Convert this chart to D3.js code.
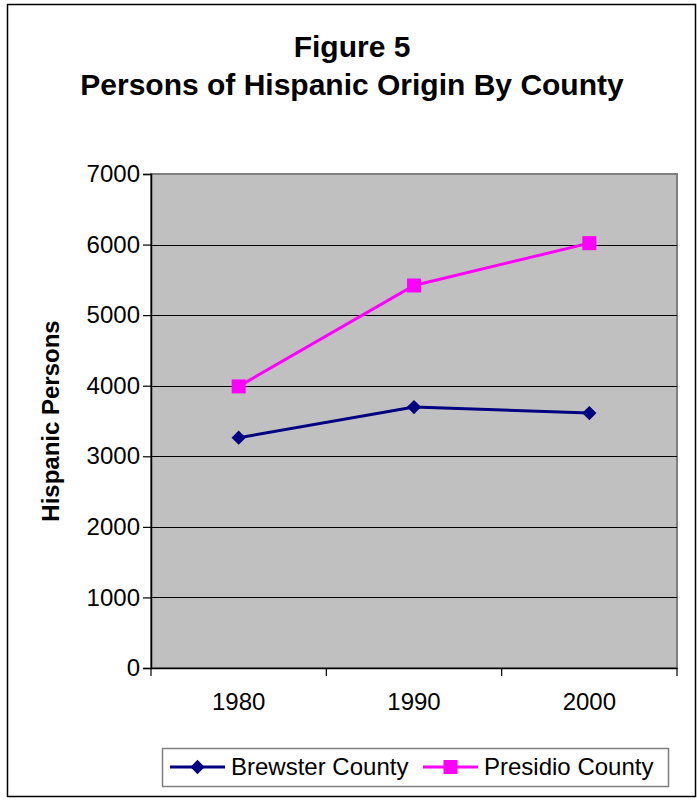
<!DOCTYPE html>
<html lang="en">
<head>
<meta charset="UTF-8">
<title>Figure 5 - Persons of Hispanic Origin By County</title>
<script src="https://d3js.org/d3.v7.min.js"></script>
<style>
    body { margin: 0; background: #fff; }
    svg text { font-family: "Liberation Sans", Arial, sans-serif; fill: #000; }
</style>
</head>
<body>
<svg width="697" height="801"></svg>
<script>
    // chart data
    const years = ["1980", "1990", "2000"];
    const brewster = [3263, 3698, 3612];
    const presidio = [3990, 5420, 6020];
    const yTicks = [0, 1000, 2000, 3000, 4000, 5000, 6000, 7000];
    const seriesNames = ["Brewster County", "Presidio County"];

    const svg = d3.select("svg");

    // outer chart border
    svg.append("rect")
        .attr("x", 7.5).attr("y", 4.5)
        .attr("width", 688).attr("height", 792)
        .attr("fill", "#fff")
        .attr("stroke", "#000")
        .attr("stroke-width", 1.5);

    // plot area
    const plot = { left: 151, top: 174, right: 677, bottom: 668 };

    const x = d3.scaleBand().domain(years).range([plot.left, plot.right]).padding(0);
    const y = d3.scaleLinear().domain([0, 7000]).range([plot.bottom, plot.top]);

    svg.append("rect")
        .attr("x", plot.left).attr("y", plot.top)
        .attr("width", plot.right - plot.left)
        .attr("height", plot.bottom - plot.top)
        .attr("fill", "#c0c0c0")
        .attr("stroke", "#808080")
        .attr("stroke-width", 2);

    // gridlines
    svg.append("g")
        .selectAll("line")
        .data(yTicks.filter(d => d > 0 && d < 7000))
        .join("line")
        .attr("x1", plot.left).attr("x2", plot.right)
        .attr("y1", d => Math.round(y(d)) + 0.5)
        .attr("y2", d => Math.round(y(d)) + 0.5)
        .attr("stroke", "#000")
        .attr("stroke-width", 1);

    // y axis
    const yAxis = svg.append("g")
        .attr("transform", `translate(${plot.left},0)`)
        .call(d3.axisLeft(y).tickValues(yTicks).tickSize(8).tickPadding(3).tickFormat(d3.format("d")));
    yAxis.select(".domain").attr("stroke", "#000").attr("stroke-width", 1.5);
    yAxis.selectAll(".tick line").attr("stroke", "#000").attr("stroke-width", 1.2);
    yAxis.selectAll(".tick text")
        .attr("font-size", 24)
        .style("font-family", "'Liberation Sans', Arial, sans-serif");

    // x axis: ticks at category boundaries, labels at centres
    const xAxis = svg.append("g")
        .attr("transform", `translate(0,${plot.bottom})`)
        .call(d3.axisBottom(x).tickSize(0).tickPadding(25));
    xAxis.select(".domain").attr("stroke", "#000").attr("stroke-width", 1.5);
    xAxis.selectAll(".tick text")
        .attr("font-size", 24)
        .style("font-family", "'Liberation Sans', Arial, sans-serif");

    const bounds = years.map(d => x(d)).concat([x.range()[1]]);
    xAxis.append("g")
        .selectAll("line")
        .data(bounds)
        .join("line")
        .attr("x1", d => d).attr("x2", d => d)
        .attr("y1", 0).attr("y2", 8)
        .attr("stroke", "#000")
        .attr("stroke-width", 1.2);

    // y axis title
    svg.append("text")
        .attr("transform", `translate(59,${(plot.top + plot.bottom) / 2})rotate(-90)`)
        .attr("text-anchor", "middle")
        .attr("font-size", 24)
        .attr("font-weight", "bold")
        .text("Hispanic Persons");

    // title
    svg.append("text")
        .attr("x", 352).attr("y", 57)
        .attr("text-anchor", "middle")
        .attr("font-size", 30)
        .attr("font-weight", "bold")
        .text("Figure 5");
    svg.append("text")
        .attr("x", 352).attr("y", 95)
        .attr("text-anchor", "middle")
        .attr("font-size", 30)
        .attr("font-weight", "bold")
        .text("Persons of Hispanic Origin By County");

    const line = d3.line()
        .x((d, i) => x(years[i]) + x.bandwidth() / 2)
        .y(d => y(d));

    const diamond = d3.symbol().type(d3.symbolDiamond2).size(130);
    const square = d3.symbol().type(d3.symbolSquare2).size(250);

    // Brewster County
    svg.append("path")
        .datum(brewster)
        .attr("fill", "none")
        .attr("stroke", "#000080")
        .attr("stroke-width", 3)
        .attr("d", line);
    svg.append("g")
        .selectAll("path")
        .data(brewster)
        .join("path")
        .attr("transform", (d, i) => `translate(${x(years[i]) + x.bandwidth() / 2},${y(d)})`)
        .attr("d", diamond)
        .attr("fill", "#000080");

    // Presidio County
    svg.append("path")
        .datum(presidio)
        .attr("fill", "none")
        .attr("stroke", "#ff00ff")
        .attr("stroke-width", 3)
        .attr("d", line);
    svg.append("g")
        .selectAll("path")
        .data(presidio)
        .join("path")
        .attr("transform", (d, i) => `translate(${x(years[i]) + x.bandwidth() / 2},${y(d)})`)
        .attr("d", square)
        .attr("fill", "#ff00ff");

    // legend
    const legend = svg.append("g");
    legend.append("rect")
        .attr("x", 162.5).attr("y", 748.5)
        .attr("width", 506).attr("height", 38)
        .attr("fill", "#fff")
        .attr("stroke", "#808080")
        .attr("stroke-width", 1.5);

    const legendItems = [
        { name: seriesNames[0], color: "#000080", symbol: diamond, x0: 170 },
        { name: seriesNames[1], color: "#ff00ff", symbol: square, x0: 423 }
    ];
    legendItems.forEach(item => {
        const ly = 767;
        legend.append("line")
            .attr("x1", item.x0).attr("x2", item.x0 + 55)
            .attr("y1", ly).attr("y2", ly)
            .attr("stroke", item.color)
            .attr("stroke-width", 3);
        legend.append("path")
            .attr("transform", `translate(${item.x0 + 27.5},${ly})`)
            .attr("d", item.symbol)
            .attr("fill", item.color);
        legend.append("text")
            .attr("x", item.x0 + 61).attr("y", ly + 8)
            .attr("font-size", 24)
            .text(item.name);
    });
</script>
</body>
</html>
